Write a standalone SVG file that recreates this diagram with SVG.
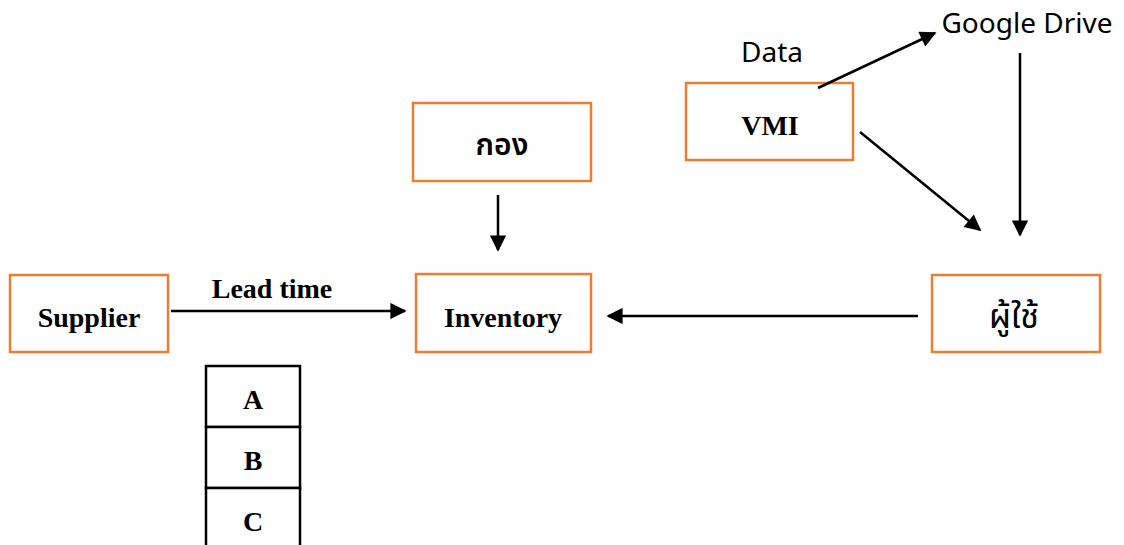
<svg xmlns="http://www.w3.org/2000/svg" width="1124" height="545" viewBox="0 0 1124 545">
  <style>
    .box { fill: #ffffff; stroke: #ED7D31; stroke-width: 2.5; }
    .lbl { font-family: "Liberation Serif", "Times New Roman", serif; font-weight: bold; font-size: 28px; fill: #000; text-anchor: middle; }
    .thai { font-family: "Noto Sans Thai", "Noto Sans", "DejaVu Sans", sans-serif; fill: #000; text-anchor: middle; }
    .sans { font-family: "Noto Sans Thai", "Noto Sans", "DejaVu Sans", sans-serif; font-size: 28px; fill: #000; text-anchor: middle; }
    .conn { stroke: #000; stroke-width: 2.5; fill: none; marker-end: url(#arrow); }
    .cell { fill: #fff; stroke: #000; stroke-width: 2.5; }
  </style>
  <defs>
    <marker id="arrow" viewBox="0 0 10 10" refX="9" refY="5" markerWidth="7" markerHeight="6.5" markerUnits="strokeWidth" orient="auto">
      <path d="M0,0 L10,5 L0,10 z" fill="#000"/>
    </marker>
  </defs>
  <rect width="1124" height="545" fill="#fff"/>

  <g id="kong">
    <rect class="box" x="413" y="103" width="178" height="78"/>
    <text class="thai" x="502" y="155" font-size="30" font-weight="600">กอง</text>
  </g>

  <g id="vmi">
    <rect class="box" x="686" y="83" width="167" height="77"/>
    <text class="lbl" x="770" y="135">VMI</text>
  </g>

  <g id="google-drive">
    <text class="sans" x="1027" y="33">Google Drive</text>
  </g>

  <g id="data-label">
    <text class="sans" x="772" y="62">Data</text>
  </g>

  <g id="supplier">
    <rect class="box" x="10" y="275" width="158" height="77"/>
    <text class="lbl" x="89" y="327">Supplier</text>
  </g>

  <g id="lead-time">
    <text class="lbl" x="272" y="298">Lead time</text>
  </g>

  <g id="inventory">
    <rect class="box" x="416" y="274" width="175" height="78"/>
    <text class="lbl" x="503" y="327">Inventory</text>
  </g>

  <g id="user">
    <rect class="box" x="932" y="275" width="168" height="77"/>
    <text class="thai" x="1014" y="328" font-size="34">ผู้ใช้</text>
  </g>

  <g id="abc-table">
    <rect class="cell" x="206" y="366" width="94" height="61"/>
    <rect class="cell" x="206" y="427" width="94" height="61"/>
    <rect class="cell" x="206" y="488" width="94" height="70"/>
    <text class="lbl" x="253" y="409">A</text>
    <text class="lbl" x="253" y="470">B</text>
    <text class="lbl" x="253" y="531">C</text>
  </g>

  <g id="connectors">
    <line class="conn" x1="498" y1="195" x2="498" y2="250"/>
    <line class="conn" x1="171" y1="311" x2="405" y2="311"/>
    <line class="conn" x1="918" y1="316" x2="608" y2="316"/>
    <line class="conn" x1="818" y1="88" x2="935" y2="33"/>
    <line class="conn" x1="860" y1="132" x2="980" y2="230"/>
    <line class="conn" x1="1020" y1="53" x2="1020" y2="235"/>
  </g>
</svg>
